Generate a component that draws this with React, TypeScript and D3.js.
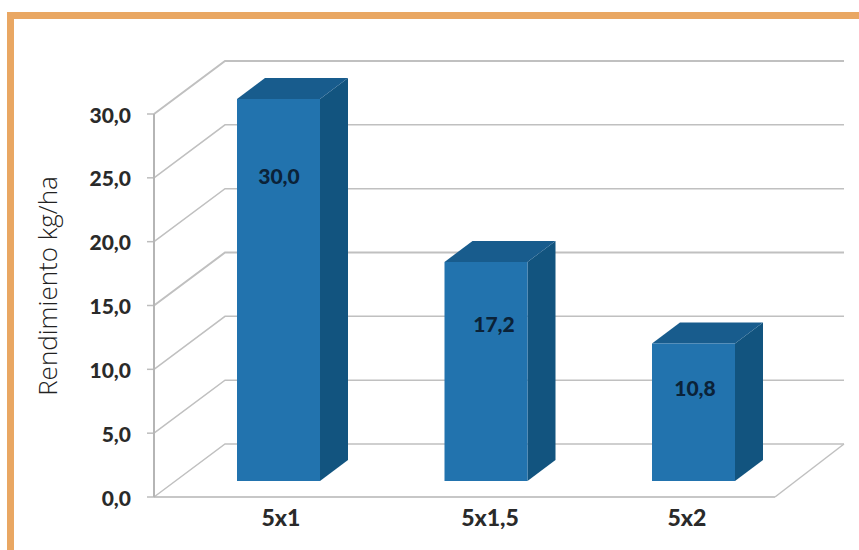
import React from "react";
import * as d3 from "d3";

const categories = ["5x1", "5x1,5", "5x2"];
const yields = [30.0, 17.2, 10.8];
const valueLabels = ["30,0", "17,2", "10,8"];
const ticks = [0, 5, 10, 15, 20, 25, 30];
const tickLabels = ["0,0", "5,0", "10,0", "15,0", "20,0", "25,0", "30,0"];

const WIDTH = 859;
const HEIGHT = 550;
const FONT = "Lato, 'Open Sans', sans-serif";

// Oblique projection of the chart box
const FLOOR_X0 = 154;
const FLOOR_X1 = 775;
const WALL_DX = 71;
const WALL_DY = 53;
const BAR_DX = 28;
const BAR_DY = 21;
const BAR_WIDTH = 83;
const BAR_BASE_Y = 481;

const y = d3.scaleLinear().domain([0, 30]).range([497, 114]);
const barHeight = d3.scaleLinear().domain([0, 30]).range([0, 382]);
const barLeft = d3.scalePoint<string>().domain(categories).range([237, 652]);

const poly = d3.line<[number, number]>();

export default function App() {
  return (
    <svg
      width={WIDTH}
      height={HEIGHT}
      viewBox={`0 0 ${WIDTH} ${HEIGHT}`}
      style={{ position: "absolute", left: 0, top: 0, background: "#fff" }}
    >
      {/* Page frame */}
      <rect x={7} y={12} width={WIDTH - 7} height={7} fill="#E9A763" />
      <rect x={7} y={12} width={7} height={HEIGHT - 12} fill="#E9A763" />

      {/* Side wall and back wall grid */}
      {ticks.map((t, i) => {
        const yf = y(t);
        const path: [number, number][] = [
          [FLOOR_X0, yf],
          [FLOOR_X0 + WALL_DX, yf - WALL_DY],
          [FLOOR_X1 + WALL_DX - 2, yf - WALL_DY],
        ];
        return (
          <g key={t}>
            <path d={poly(path) ?? ""} fill="none" stroke="#C0C0C0" strokeWidth={t === 15 || t === 30 ? 2 : 1.5} />
            <line x1={FLOOR_X0 - 7} x2={FLOOR_X0} y1={yf} y2={yf} stroke="#BDBDBD" strokeWidth={1.5} />
            <text
              x={131}
              y={yf + 1}
              dy="0.36em"
              textAnchor="end"
              fontFamily={FONT}
              fontWeight={900}
              fontSize={21}
              fill="#2A2A2A"
            >
              {tickLabels[i]}
            </text>
          </g>
        );
      })}

      {/* Axis line, floor front edge and floor right edge */}
      <line x1={FLOOR_X0} x2={FLOOR_X0} y1={y(30)} y2={y(0)} stroke="#B5B5B5" strokeWidth={2} />
      <line x1={FLOOR_X0} x2={FLOOR_X1} y1={y(0)} y2={y(0)} stroke="#B5B5B5" strokeWidth={1.5} />
      <line
        x1={FLOOR_X1}
        x2={FLOOR_X1 + WALL_DX - 2}
        y1={y(0)}
        y2={y(0) - WALL_DY}
        stroke="#C0C0C0"
        strokeWidth={1.5}
      />

      {/* Bars */}
      {categories.map((c, i) => {
        const x0 = barLeft(c) as number;
        const x1 = x0 + BAR_WIDTH;
        const top = BAR_BASE_Y - barHeight(yields[i]);
        const front: [number, number][] = [
          [x0, top],
          [x1, top],
          [x1, BAR_BASE_Y],
          [x0, BAR_BASE_Y],
        ];
        const side: [number, number][] = [
          [x1, top],
          [x1 + BAR_DX, top - BAR_DY],
          [x1 + BAR_DX, BAR_BASE_Y - BAR_DY],
          [x1, BAR_BASE_Y],
        ];
        const cap: [number, number][] = [
          [x0, top],
          [x0 + BAR_DX, top - BAR_DY],
          [x1 + BAR_DX, top - BAR_DY],
          [x1, top],
        ];
        return (
          <g key={c}>
            <path d={`${poly(side)}Z`} fill="#12547F" />
            <path d={`${poly(cap)}Z`} fill="#185C8D" />
            <path d={`${poly(front)}Z`} fill="#2273AE" />
            <text
              x={[279, 494, 695][i]}
              y={[176, 324, 388][i]}
              dy="0.36em"
              textAnchor="middle"
              fontFamily={FONT}
              fontWeight={900}
              fontSize={21}
              fill="#0B2238"
            >
              {valueLabels[i]}
            </text>
            <text
              x={[281, 490, 687][i]}
              y={518}
              dy="0.36em"
              textAnchor="middle"
              fontFamily={FONT}
              fontWeight={900}
              fontSize={23}
              fill="#2A2A2A"
            >
              {c}
            </text>
          </g>
        );
      })}

      {/* Value axis title */}
      <text
        transform="translate(57,286) rotate(-90)"
        textAnchor="middle"
        fontFamily="'Open Sans', sans-serif"
        fontSize={26}
        fontWeight={300}
        fill="#222"
      >
        Rendimiento kg/ha
      </text>
    </svg>
  );
}
